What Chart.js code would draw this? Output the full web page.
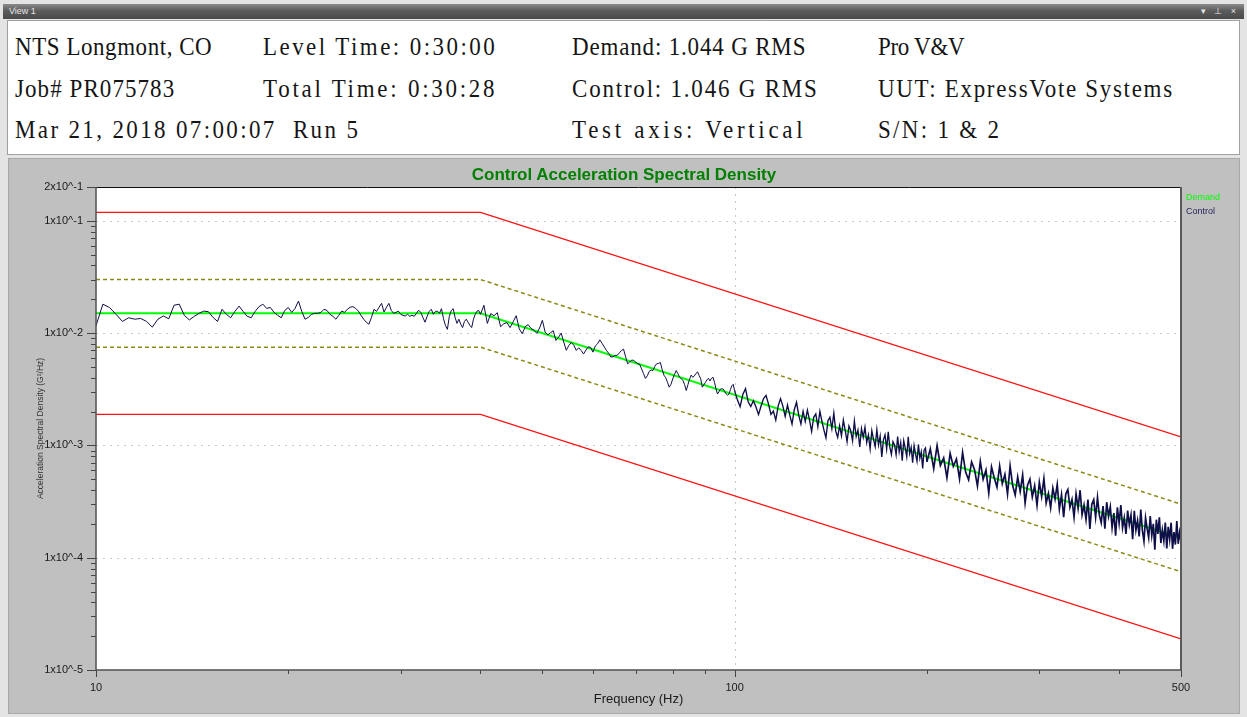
<!DOCTYPE html>
<html>
<head>
<meta charset="utf-8">
<title>Control Acceleration Spectral Density</title>
<script src="https://cdn.jsdelivr.net/npm/chart.js@4.4.1/dist/chart.umd.min.js"></script>
<style>
    html, body { margin: 0; padding: 0; }
    body { width: 1247px; height: 717px; overflow: hidden; position: relative; background: #e4e4e4; font-family: 'Liberation Sans', Arial, sans-serif; }
    #titlebar { position: absolute; left: 3px; top: 4px; width: 1241px; height: 15px; background: linear-gradient(#8a8a8a, #5c5c5c 45%, #4a4a4a); color: #e6e6e6; font-size: 9px; line-height: 15px; }
    #titlebar .name { position: absolute; left: 6px; top: 0; }
    #titlebar .btns { position: absolute; right: 5px; top: 0; letter-spacing: 3px; }
    #header { position: absolute; left: 7px; top: 20px; width: 1233px; height: 135px; background: #fff; border: 1px solid #a0a0a0; box-sizing: border-box; }
    .hd { position: absolute; font-family: 'Liberation Serif', 'Times New Roman', serif; font-size: 23px; line-height: 24px; white-space: pre; color: #151515; transform: scaleY(1.08); transform-origin: 0 50%; }
    #panel { position: absolute; left: 8px; top: 158px; width: 1232px; height: 556px; background: #c0c0c0; border: 1px solid #a8a8a8; box-sizing: border-box; }
    #chart { position: absolute; left: 0; top: 0; }
    #plotTitle { position: absolute; left: 8px; top: 165px; width: 1232px; text-align: center; font: bold 17px 'Liberation Sans', Arial, sans-serif; line-height: 20px; color: #008000; }
    .legend { position: absolute; left: 1186px; font-size: 9px; line-height: 10px; }
</style>
</head>
<body>
<div id="titlebar"><span class="name">View 1</span><span class="btns">▾ ⊥ ×</span></div>
<div id="header"></div>
<span class="hd" style="left:15px;top:35px">NTS Longmont, CO</span>
<span class="hd" style="left:263px;top:35px">Level Time: 0:30:00</span>
<span class="hd" style="left:572px;top:35px">Demand: 1.044 G RMS</span>
<span class="hd" style="left:878px;top:35px">Pro V&amp;V</span>
<span class="hd" style="left:15px;top:77px">Job# PR075783</span>
<span class="hd" style="left:263px;top:77px">Total Time: 0:30:28</span>
<span class="hd" style="left:572px;top:77px">Control: 1.046 G RMS</span>
<span class="hd" style="left:878px;top:77px">UUT: ExpressVote Systems</span>
<span class="hd" style="left:15px;top:118px">Mar 21, 2018 07:00:07  Run 5</span>
<span class="hd" style="left:572px;top:118px">Test axis: Vertical</span>
<span class="hd" style="left:878px;top:118px">S/N: 1 &amp; 2</span>
<div id="panel"></div>
<canvas id="chart" width="1247" height="717"></canvas>
<div id="plotTitle">Control Acceleration Spectral Density</div>
<span class="legend" style="top:192px;color:#00ff00">Demand</span>
<span class="legend" style="top:206px;color:#24245e">Control</span>

<script>
// Test profile breakpoints (Hz) and levels (G²/Hz)
const profileFreq = [10, 40, 500];
const demandPsd = [0.015, 0.015, 1.5e-4];
const alarmHigh = [0.030, 0.030, 3.0e-4];
const alarmLow = [0.0075, 0.0075, 7.5e-5];
const abortHigh = [0.119, 0.119, 1.19e-3];
const abortLow = [0.00189, 0.00189, 1.89e-5];

// Control trace: analyser lines as [first line Hz, spacing Hz, count]
const controlBands = [[10, 0.25, 121], [40.5, 0.5, 120], [101, 1, 100], [202.5, 2.5, 120]];

// 10 - 40 Hz
const controlA = [
    0.0116, 0.0181, 0.0169, 0.0147,
    0.0127, 0.0137, 0.0133, 0.0135,
    0.0127, 0.0113, 0.0133, 0.0142,
    0.0134, 0.0177, 0.0181, 0.0144,
    0.0131, 0.0141, 0.0150, 0.0157,
    0.0155, 0.0138, 0.0127, 0.0163,
    0.0147, 0.0137, 0.0156, 0.0174,
    0.0156, 0.0141, 0.0137, 0.0156,
    0.0172, 0.0181, 0.0166, 0.0169,
    0.0153, 0.0144, 0.0137, 0.0159,
    0.0169, 0.0153, 0.0166, 0.0193,
    0.0156, 0.0133, 0.0138, 0.0147,
    0.0150, 0.0150, 0.0153, 0.0163,
    0.0159, 0.0147, 0.0141, 0.0133,
    0.0144, 0.0157, 0.0153, 0.0163,
    0.0170, 0.0172, 0.0166, 0.0157,
    0.0144, 0.0133, 0.0125, 0.0120,
    0.0138, 0.0163, 0.0156, 0.0170,
    0.0184, 0.0154, 0.0170, 0.0184,
    0.0159, 0.0150, 0.0153, 0.0157,
    0.0147, 0.0144, 0.0142, 0.0147,
    0.0141, 0.0144, 0.0141, 0.0150,
    0.0160, 0.0153, 0.0138, 0.0125,
    0.0141, 0.0156, 0.0163, 0.0147,
    0.0156, 0.0157, 0.0150, 0.0165,
    0.0135, 0.0117, 0.0108, 0.0141,
    0.0159, 0.0165, 0.0138, 0.0122,
    0.0133, 0.0120, 0.0112, 0.0127,
    0.0133, 0.0125, 0.0117, 0.0112,
    0.0133, 0.0147, 0.0157, 0.0159,
    0.0147
];

// 40.5 - 100 Hz
const controlB = [
    0.0177, 0.0122, 0.0149, 0.0143, 0.0152, 0.0114, 0.0121, 0.0124, 0.0112, 0.0126,
    0.0143, 0.0109, 0.00988, 0.0114, 0.0119, 0.0110, 0.0106, 0.00996, 0.0111, 0.0130,
    0.0102, 0.00965, 0.0101, 0.0105, 0.00860, 0.00918, 0.0100, 0.00833, 0.00703, 0.00774,
    0.00826, 0.00780, 0.00702, 0.00740, 0.00700, 0.00651, 0.00706, 0.00755, 0.00746, 0.00677,
    0.00767, 0.00803, 0.00871, 0.00812, 0.00753, 0.00701, 0.00661, 0.00613, 0.00615, 0.00633,
    0.00635, 0.00667, 0.00700, 0.00720, 0.00614, 0.00533, 0.00552, 0.00576, 0.00571, 0.00552,
    0.00534, 0.00528, 0.00480, 0.00436, 0.00395, 0.00417, 0.00456, 0.00469, 0.00464, 0.00507,
    0.00533, 0.00537, 0.00548, 0.00474, 0.00422, 0.00401, 0.00365, 0.00330, 0.00350, 0.00391,
    0.00428, 0.00464, 0.00436, 0.00405, 0.00393, 0.00378, 0.00347, 0.00308, 0.00347, 0.00388,
    0.00423, 0.00404, 0.00416, 0.00438, 0.00451, 0.00419, 0.00391, 0.00330, 0.00346, 0.00364,
    0.00383, 0.00396, 0.00375, 0.00396, 0.00404, 0.00365, 0.00319, 0.00287, 0.00300, 0.00317,
    0.00320, 0.00317, 0.00301, 0.00287, 0.00280, 0.00287, 0.00315, 0.00339, 0.00350, 0.00306
];

// 101 - 200 Hz
const controlC = [
    2.55e-3, 2.21e-3, 2.84e-3, 3.20e-3, 2.45e-3, 2.22e-3, 2.50e-3, 2.20e-3, 1.88e-3, 2.24e-3,
    2.61e-3, 2.79e-3, 2.33e-3, 1.89e-3, 2.02e-3, 1.68e-3, 2.25e-3, 2.61e-3, 2.24e-3, 1.81e-3,
    2.29e-3, 1.86e-3, 1.55e-3, 2.08e-3, 2.42e-3, 1.86e-3, 1.55e-3, 2.01e-3, 1.63e-3, 2.06e-3,
    1.68e-3, 1.33e-3, 1.78e-3, 1.91e-3, 1.47e-3, 2.01e-3, 1.64e-3, 1.37e-3, 1.17e-3, 1.66e-3,
    1.78e-3, 1.41e-3, 1.94e-3, 1.34e-3, 1.18e-3, 1.50e-3, 1.22e-3, 1.68e-3, 1.36e-3, 1.08e-3,
    1.49e-3, 1.35e-3, 1.10e-3, 1.65e-3, 1.20e-3, 1.37e-3, 9.68e-4, 1.41e-3, 1.18e-3, 1.45e-3,
    1.06e-3, 1.24e-3, 9.29e-4, 1.35e-3, 1.13e-3, 9.77e-4, 1.38e-3, 1.01e-3, 1.21e-3, 7.91e-4,
    1.12e-3, 1.24e-3, 9.31e-4, 1.32e-3, 9.64e-4, 8.31e-4, 1.08e-3, 1.01e-3, 8.28e-4, 1.20e-3,
    8.80e-4, 1.06e-3, 7.31e-4, 1.10e-3, 9.46e-4, 7.93e-4, 1.19e-3, 8.45e-4, 9.61e-4, 7.01e-4,
    9.95e-4, 8.36e-4, 7.22e-4, 1.02e-3, 7.69e-4, 8.75e-4, 6.22e-4, 9.08e-4, 9.50e-4, 7.13e-4
];

// 202.5 - 500 Hz
const controlD = [
    9.30e-4, 6.21e-4, 9.93e-4, 6.63e-4, 7.72e-4, 5.15e-4, 8.50e-4, 6.51e-4, 7.57e-4, 5.03e-4,
    8.65e-4, 5.79e-4, 4.94e-4, 7.12e-4, 6.08e-4, 4.36e-4, 7.21e-4, 4.99e-4, 6.02e-4, 3.75e-4,
    6.44e-4, 5.14e-4, 4.25e-4, 6.57e-4, 4.56e-4, 5.52e-4, 3.69e-4, 6.56e-4, 4.39e-4, 3.62e-4,
    5.23e-4, 3.90e-4, 5.45e-4, 3.07e-4, 4.43e-4, 5.02e-4, 3.48e-4, 4.37e-4, 2.93e-4, 4.70e-4,
    3.51e-4, 5.07e-4, 3.07e-4, 3.73e-4, 2.78e-4, 4.16e-4, 3.33e-4, 4.49e-4, 2.71e-4, 3.65e-4,
    2.29e-4, 3.69e-4, 4.04e-4, 2.81e-4, 3.30e-4, 2.30e-4, 3.69e-4, 2.76e-4, 3.99e-4, 2.41e-4,
    2.94e-4, 2.19e-4, 3.29e-4, 1.80e-4, 3.00e-4, 3.29e-4, 2.29e-4, 3.43e-4, 2.39e-4, 2.05e-4,
    2.88e-4, 1.81e-4, 3.12e-4, 2.34e-4, 2.84e-4, 1.85e-4, 2.50e-4, 1.57e-4, 2.81e-4, 2.03e-4,
    2.94e-4, 1.85e-4, 2.26e-4, 1.63e-4, 2.63e-4, 1.97e-4, 2.40e-4, 1.46e-4, 2.61e-4, 1.76e-4,
    2.14e-4, 1.55e-4, 2.68e-4, 1.75e-4, 1.40e-4, 2.26e-4, 1.82e-4, 1.51e-4, 2.35e-4, 1.58e-4,
    2.00e-4, 1.18e-4, 2.18e-4, 1.63e-4, 2.29e-4, 1.35e-4, 1.76e-4, 1.41e-4, 2.06e-4, 1.21e-4,
    1.88e-4, 1.46e-4, 2.05e-4, 1.20e-4, 1.69e-4, 1.31e-4, 2.12e-4, 1.33e-4, 1.68e-4, 1.40e-4
];

// Axis ticks and grid
const xTicks = [10, 100, 500];
const xTickLabels = ['10', '100', '500'];
const yTicks = [1e-5, 1e-4, 1e-3, 1e-2, 1e-1, 2e-1];
const yTickLabels = ['1x10^-5', '1x10^-4', '1x10^-3', '1x10^-2', '1x10^-1', '2x10^-1'];
const xGrid = [100];
const yGrid = [1e-4, 1e-3, 1e-2, 1e-1];

const font = "'Liberation Sans', Arial, sans-serif";
const headerCell = 12.33;   // character pitch of the header text

function profilePoints(levels) {
    return profileFreq.map((f, i) => ({ x: f, y: levels[i] }));
}

function controlPoints() {
    const values = [controlA, controlB, controlC, controlD];
    const points = [];
    controlBands.forEach(([start, step, count], b) => {
        for (let k = 0; k < count; k++) {
            points.push({ x: start + k * step, y: values[b][k] });
        }
    });
    return points;
}

// minor tick values (2..9 of each decade)
function minorTicks(lo, hi) {
    const out = [];
    for (let d = lo; d <= hi; d++) {
        for (let m = 2; m <= 9; m++) out.push(m * Math.pow(10, d));
    }
    return out;
}

// Spread header strings to the fixed character pitch of the original
function fitHeader() {
    document.querySelectorAll('.hd').forEach(el => {
        const n = el.textContent.length;
        const w = el.getBoundingClientRect().width;
        el.style.letterSpacing = ((n * headerCell - w) / n).toFixed(2) + 'px';
    });
}

// The dense upper band of the trace reads heavier in the original
function controlWidth(seg) {
    const f = seg.p0.parsed.x;
    if (f >= 200) return 1.7;
    if (f >= 100) return 1.35;
    return 1;
}

// White plot area, dotted grid, frame and tick marks
const plotFrame = {
    id: 'plotFrame',
    beforeDatasetsDraw(chart) {
        const { ctx, chartArea: a, scales: { x, y } } = chart;
        ctx.save();
        ctx.fillStyle = '#ffffff';
        ctx.fillRect(a.left, a.top, a.right - a.left, a.bottom - a.top);
        ctx.strokeStyle = '#c8c8c8';
        ctx.lineWidth = 1;
        ctx.setLineDash([2, 5]);
        ctx.beginPath();
        yGrid.forEach(v => {
            const py = Math.round(y.getPixelForValue(v)) + 0.5;
            ctx.moveTo(a.left, py);
            ctx.lineTo(a.right, py);
        });
        xGrid.forEach(v => {
            const px = Math.round(x.getPixelForValue(v)) + 0.5;
            ctx.moveTo(px, a.top);
            ctx.lineTo(px, a.bottom);
        });
        ctx.stroke();
        ctx.restore();
    },
    afterDatasetsDraw(chart) {
        const { ctx, chartArea: a, scales: { x, y } } = chart;
        ctx.save();
        ctx.setLineDash([]);
        // ticks
        ctx.strokeStyle = '#454545';
        ctx.lineWidth = 1;
        ctx.beginPath();
        yTicks.forEach(v => {
            const py = Math.round(y.getPixelForValue(v)) + 0.5;
            ctx.moveTo(a.left - 9, py);
            ctx.lineTo(a.left, py);
        });
        minorTicks(-5, -2).forEach(v => {
            const py = Math.round(y.getPixelForValue(v)) + 0.5;
            ctx.moveTo(a.left - 5, py);
            ctx.lineTo(a.left, py);
        });
        xTicks.forEach(v => {
            const px = Math.round(x.getPixelForValue(v)) + 0.5;
            ctx.moveTo(px, a.bottom);
            ctx.lineTo(px, a.bottom + 7);
        });
        minorTicks(1, 2).filter(v => v < 500).forEach(v => {
            const px = Math.round(x.getPixelForValue(v)) + 0.5;
            ctx.moveTo(px, a.bottom);
            ctx.lineTo(px, a.bottom + 4);
        });
        ctx.stroke();
        // frame
        ctx.strokeStyle = '#111111';
        ctx.lineWidth = 1;
        ctx.beginPath();
        ctx.moveTo(a.left, a.top + 0.5);
        ctx.lineTo(a.right, a.top + 0.5);
        ctx.stroke();
        ctx.strokeStyle = '#5a5a5a';
        ctx.lineWidth = 2;
        ctx.beginPath();
        ctx.moveTo(a.right, a.top);
        ctx.lineTo(a.right, a.bottom);
        ctx.stroke();
        ctx.strokeStyle = '#505050';
        ctx.lineWidth = 1.5;
        ctx.beginPath();
        ctx.moveTo(a.left, a.top);
        ctx.lineTo(a.left, a.bottom);
        ctx.lineTo(a.right, a.bottom);
        ctx.stroke();
        ctx.restore();
    }
};

function lineSet(label, data, color, width, dash) {
    return {
        label: label,
        data: data,
        borderColor: color,
        backgroundColor: color,
        borderWidth: width,
        borderDash: dash || [],
        pointRadius: 0,
        tension: 0,
        fill: false
    };
}

document.addEventListener('DOMContentLoaded', function() {
    fitHeader();

    const control = lineSet('Control', controlPoints(), '#0e0e48', 1);
    control.segment = { borderWidth: controlWidth };

    const ctx = document.getElementById('chart').getContext('2d');
    new Chart(ctx, {
        type: 'line',
        data: {
            datasets: [
                control,
                lineSet('Demand', profilePoints(demandPsd), '#00ff00', 2),
                lineSet('Alarm +', profilePoints(alarmHigh), '#8a8a14', 1.5, [4, 3]),
                lineSet('Alarm -', profilePoints(alarmLow), '#8a8a14', 1.5, [4, 3]),
                lineSet('Abort +', profilePoints(abortHigh), '#ff1010', 1.3),
                lineSet('Abort -', profilePoints(abortLow), '#ff1010', 1.3)
            ]
        },
        options: {
            responsive: false,
            animation: false,
            devicePixelRatio: 1,
            layout: { padding: { top: 187, right: 66, left: 0, bottom: 0 } },
            plugins: {
                legend: { display: false },
                title: { display: false },
                tooltip: { enabled: false }
            },
            scales: {
                x: {
                    type: 'logarithmic',
                    min: 10,
                    max: 500,
                    grid: { display: false, drawTicks: false },
                    border: { display: false },
                    afterBuildTicks: s => { s.ticks = xTicks.map(v => ({ value: v })); },
                    afterFit: s => { s.height = 47; },
                    ticks: {
                        autoSkip: false,
                        maxRotation: 0,
                        padding: 11,
                        color: '#1a1a1a',
                        font: { family: font, size: 11 },
                        callback: (v, i) => xTickLabels[i]
                    },
                    title: {
                        display: true,
                        text: 'Frequency (Hz)',
                        color: '#1a1a1a',
                        font: { family: font, size: 13 },
                        padding: { top: 0, bottom: 10 }
                    }
                },
                y: {
                    type: 'logarithmic',
                    min: 1e-5,
                    max: 0.2,
                    grid: { display: false, drawTicks: false },
                    border: { display: false },
                    afterBuildTicks: s => { s.ticks = yTicks.map(v => ({ value: v })); },
                    afterFit: s => { s.width = 96; },
                    ticks: {
                        autoSkip: false,
                        padding: 13,
                        color: '#1a1a1a',
                        font: { family: font, size: 11 },
                        callback: (v, i) => yTickLabels[i]
                    },
                    title: {
                        display: true,
                        text: 'Acceleration Spectral Density (G²/Hz)',
                        color: '#333333',
                        font: { family: font, size: 8.5 },
                        padding: { top: 36, bottom: 0 }
                    }
                }
            }
        },
        plugins: [plotFrame]
    });
});
</script>
</body>
</html>
